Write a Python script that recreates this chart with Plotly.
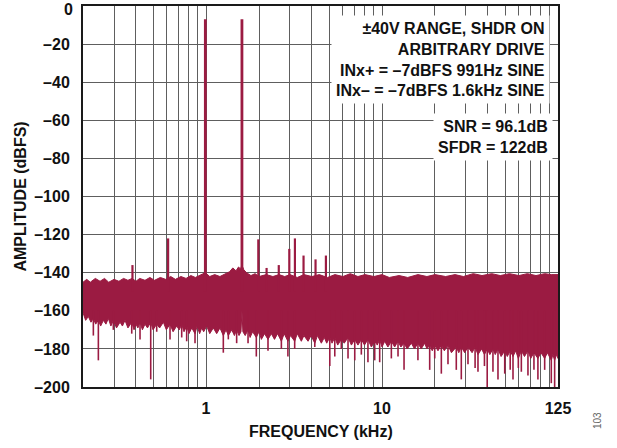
import plotly.graph_objects as go

COLOR = "#9b1b42"
FONT = "Liberation Sans, Arial, Helvetica, sans-serif"

# Noise floor: upper edge of the dense FFT noise band (kHz, dBFS)
upper_freq = [0.200, 0.21, 0.22, 0.235, 0.25, 0.265, 0.28, 0.30, 0.32, 0.34, 0.36, 0.38, 0.40, 0.42,
              0.45, 0.48, 0.51, 0.55, 0.59, 0.63, 0.67, 0.72, 0.77, 0.82, 0.87, 0.93, 0.99, 1.05,
              1.12, 1.2, 1.28, 1.36, 1.42, 1.48, 1.53, 1.57, 1.60, 1.64, 1.7, 1.8, 1.9, 2.0, 2.2,
              2.4, 2.6, 2.8, 3.0, 3.3, 3.6, 4.0, 4.4, 4.9, 5.4, 6, 6.6, 7.3, 8, 9, 10, 11, 12.5,
              14, 16, 18, 20, 23, 26, 29, 33, 37, 42, 47, 53, 60, 67, 75, 84, 92, 100]
upper_db = [-145, -143.5, -145, -143, -144.5, -143, -145, -143.5, -144.5, -143, -144, -143, -144.5, -143,
            -144, -142.5, -144, -142.5, -143.5, -142, -143.5, -142, -143, -141.5, -142.5, -141, -140, -142,
            -141, -142, -140.5, -139.5, -137.5, -139, -137, -138, -136, -138.5, -140, -141.5, -140.5, -142, -141,
            -142, -141, -142, -141, -142.5, -141, -142, -141, -142.5, -141, -142, -140.5, -142, -141, -142, -141, -142.5, -141.5,
            -142.5, -141, -142, -141, -142, -141, -142, -140.5, -141.5, -140.5, -141.5, -140.5, -141.5, -140.5, -141.5, -140.5, -141, -141]

# Lower edge of the dense noise band
lower_freq = [0.200, 0.207, 0.2145, 0.222, 0.229, 0.236, 0.2445, 0.252, 0.261, 0.27, 0.2786, 0.288, 0.2974,
              0.31, 0.3246, 0.335, 0.3465, 0.36, 0.3784, 0.39, 0.40, 0.41, 0.4217, 0.435, 0.450, 0.465,
              0.485, 0.50, 0.5245, 0.545, 0.5723, 0.595, 0.6244, 0.65, 0.681, 0.705, 0.7275, 0.75, 0.7765,
              0.80, 0.83, 0.866, 0.89, 0.92, 0.945, 0.97, 1.009, 1.05, 1.10, 1.15, 1.2, 1.254, 1.30, 1.339,
              1.40, 1.45, 1.493, 1.54, 1.58, 1.60, 1.62, 1.67, 1.733, 1.78, 1.84, 1.931, 2.0, 2.063, 2.15,
              2.25, 2.35, 2.45, 2.55, 2.68, 2.78, 2.92, 3.02, 3.19, 3.3, 3.48, 3.6, 3.80, 3.95, 4.15, 4.3,
              4.52, 4.7, 4.85, 5.05, 5.2, 5.39, 5.6, 5.87, 6.1, 6.41, 6.7, 7.0, 7.3, 7.63, 7.95, 8.32, 8.7,
              9.09, 9.4, 9.70, 10.0, 10.36, 10.8, 11.3, 11.8, 12.33, 12.8, 13.34, 13.9, 14.68, 15.3, 16.0,
              16.7, 17.48, 18.0, 18.66, 19.3, 19.93, 20.8, 21.73, 22.6, 23.71, 24.8, 26.43, 27.3, 28.22,
              29.5, 30.8, 32.5, 33.8, 35.1, 36.8, 38.2, 39.6, 41.0, 42.7, 44.0, 45.6, 47.5, 49.8, 51.5,
              53.5, 55.5, 57.5, 59.5, 61.9, 64.5, 67.5, 70, 73, 76.9, 80, 84.0, 87, 91.6, 93.5, 95.7, 98, 100]
lower_db = [-161, -165, -163, -166, -164, -167, -165, -168, -165, -167, -164, -168, -165,
            -169, -166, -168, -165, -169, -166, -170, -167, -169, -166, -170, -167, -169,
            -166, -170, -167, -169, -166, -170, -167, -171, -168, -170, -167, -171, -168,
            -172, -169, -172, -168, -172, -169, -171, -168, -172, -169, -172, -169, -173, -170, -173,
            -170, -173, -170, -173, -171, -160, -171, -173, -170, -174, -171, -174, -171, -175, -172,
            -175, -172, -175, -172, -176, -172, -176, -173, -176, -172, -176, -173, -176, -173, -177, -173,
            -177, -174, -177, -174, -177, -174, -178, -175, -177, -174, -178, -175, -178, -175, -178, -175, -179,
            -176, -178, -175, -179, -176, -179, -176, -179, -176, -179, -177, -180, -177, -180, -177,
            -180, -177, -180, -178, -181, -178, -181, -178, -181, -178, -182, -179, -182, -179,
            -182, -179, -182, -179, -183, -180, -183, -180, -183, -180, -183, -180, -184, -181, -184,
            -181, -184, -181, -185, -181, -184, -181, -185, -182, -185, -182, -185, -182, -186, -183, -186, -183, -185]

# Deep downward noise spikes
dip_freq = [0.229, 0.2445, 0.2974, 0.3784, 0.4217, 0.485, 0.5245, 0.6244, 0.7275, 0.7765, 0.866, 1.254,
            1.339, 1.493, 1.733, 1.931, 2.25, 2.68, 2.92, 3.19, 4.15, 5.05, 5.39, 5.87, 6.41, 7.0, 7.63,
            8.32, 9.09, 9.70, 11.3, 12.33, 13.34, 16.0, 18.66, 19.93, 21.73, 23.71, 26.43, 28.22, 30.8,
            33.8, 35.1, 38.2, 39.6, 42.7, 45.6, 49.8, 53.5, 55.5, 59.5, 61.9, 67.5, 73, 76.9, 84.0, 91.6, 95.7]
dip_db = [-173, -186, -170, -172, -175, -196, -171, -175, -174, -176, -177, -182,
          -175, -177, -177, -184, -181, -180, -184, -180, -179, -189, -184, -180, -185, -186, -183,
          -187, -186, -187, -185, -184, -191, -186, -191, -185, -193, -188, -191, -196, -188,
          -190, -192, -189, -200, -192, -196, -193, -191, -196, -190, -192, -194, -191, -196, -191, -198, -200]

# Tones and spurs (kHz, dBFS)
tone_freq = [0.991, 1.6]
tone_db = [-7, -7]
spur_freq = [0.382, 0.609, 1.982, 2.209, 2.591, 2.973, 3.2, 3.582, 4.191, 4.8]
spur_db = [-136, -122, -122.5, -137.5, -136, -127.5, -122, -131, -133, -131]

x_grid = [0.2, 0.3, 0.4, 0.5, 0.6, 0.7, 0.8, 0.9, 1, 2, 3, 4, 5, 6, 7, 8, 9,
          10, 20, 30, 40, 50, 60, 70, 80, 90, 100]
x_labels = {1: "1", 10: "10", 100: "125"}
y_ticks = [0, -20, -40, -60, -80, -100, -120, -140, -160, -180, -200]


def segs(freqs, levels, base):
    xs, ys = [], []
    for f, v in zip(freqs, levels):
        xs += [f, f, None]
        ys += [base, v, None]
    return xs, ys


fig = go.Figure()
fig.add_trace(go.Scatter(
    x=upper_freq + lower_freq[::-1], y=upper_db + lower_db[::-1],
    mode="lines", fill="toself", fillcolor=COLOR,
    line=dict(color=COLOR, width=1), hoverinfo="skip"))
dx, dy = segs(dip_freq, dip_db, -160)
fig.add_trace(go.Scatter(x=dx, y=dy, mode="lines", line=dict(color=COLOR, width=1.6), hoverinfo="skip"))
sx, sy = segs(spur_freq, spur_db, -150)
fig.add_trace(go.Scatter(x=sx, y=sy, mode="lines", line=dict(color=COLOR, width=2.2), hoverinfo="skip"))
tx, ty = segs(tone_freq, tone_db, -150)
fig.add_trace(go.Scatter(x=tx, y=ty, mode="lines", line=dict(color=COLOR, width=2.8), hoverinfo="skip"))

tickfont = dict(family=FONT, size=16, color="#111", weight="bold")
fig.update_layout(
    width=617, height=448,
    margin=dict(l=83, r=59, t=6, b=61),
    paper_bgcolor="white", plot_bgcolor="white",
    showlegend=False,
    xaxis=dict(type="log", range=[-0.699, 2.0],
               tickvals=x_grid, ticktext=[x_labels.get(v, "") for v in x_grid],
               showgrid=True, gridcolor="#5e5e5e", gridwidth=1,
               showline=True, linecolor="#1a1a1a", linewidth=2, mirror=True,
               ticks="", tickfont=tickfont, ticklabelstandoff=6, zeroline=False,
               automargin=False),
    yaxis=dict(range=[-200, 0], tickvals=y_ticks,
               ticktext=["" if v == 0 else "\u2013" + str(-v) for v in y_ticks],
               showgrid=True, gridcolor="#5e5e5e", gridwidth=1,
               showline=True, linecolor="#1a1a1a", linewidth=2, mirror=True,
               ticks="", tickfont=tickfont, ticklabelstandoff=8, zeroline=False,
               automargin=False),
    annotations=[
        dict(text="0", xref="paper", yref="paper", x=(74 - 83) / 475, y=(387 - 9.5) / 381,
             showarrow=False, xanchor="right", yanchor="middle", borderpad=0,
             font=dict(family=FONT, size=16, color="#111", weight="bold")),
        dict(text="FREQUENCY (kHz)", xref="paper", yref="paper", x=0.5, y=-0.118,
             showarrow=False, xanchor="center", yanchor="middle",
             font=dict(family=FONT, size=16, color="#111", weight="bold")),
        dict(text="AMPLITUDE (dBFS)", xref="paper", yref="paper", x=-0.1326, y=0.5,
             showarrow=False, xanchor="center", yanchor="middle", textangle=-90,
             font=dict(family=FONT, size=16, color="#111", weight="bold")),
        dict(text="\u00b140V RANGE, SHDR ON<br>ARBITRARY DRIVE<br>INx+ = \u20137dBFS 991Hz SINE<br>INx\u2013 = \u20137dBFS 1.6kHz SINE",
             xref="paper", yref="paper", x=0.9832, y=0.9764, xanchor="right", yanchor="top",
             align="right", showarrow=False, bgcolor="white", borderpad=4,
             font=dict(family=FONT, size=16, color="#111", weight="bold")),
        dict(text="SNR = 96.1dB<br>SFDR = 122dB",
             xref="paper", yref="paper", x=0.9895, y=0.7192, xanchor="right", yanchor="top",
             align="right", showarrow=False, bgcolor="white", borderpad=4,
             font=dict(family=FONT, size=16, color="#111", weight="bold")),
        dict(text="103", xref="paper", yref="paper", x=(598 - 83) / 475, y=(387 - 421) / 381,
             showarrow=False, xanchor="center", yanchor="middle", textangle=-90,
             font=dict(family=FONT, size=10, color="#666")),
    ],
)

fig.write_html("out.html")
